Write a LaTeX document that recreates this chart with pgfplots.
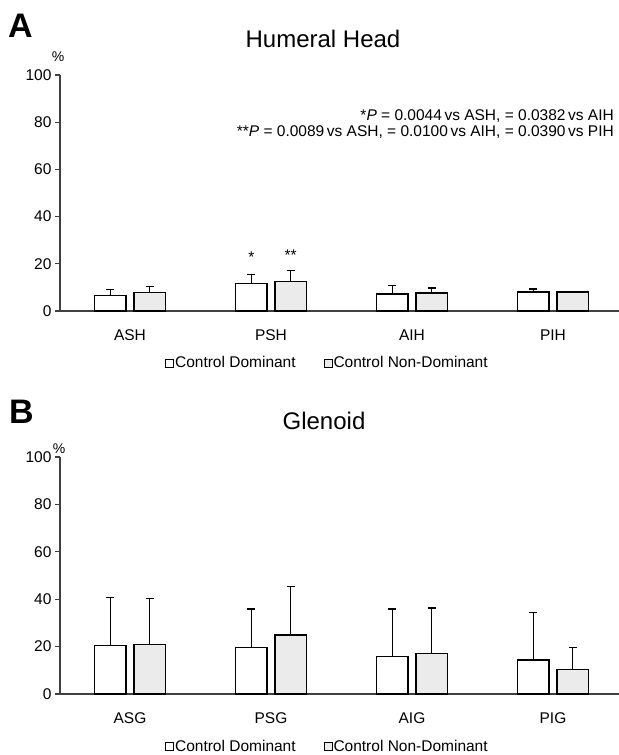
\documentclass[border=0pt]{standalone}
\usepackage{fontspec}
\setmainfont{Liberation Sans}
\usepackage{pgfplots}
\pgfplotsset{compat=1.18}
\usepackage{pgfplotstable}

\pgfplotstableread{
x D Derr N Nerr
0 6.5 2.7 7.75 2.7
1 11.6 3.8 12.6 4.5
2 7.1 3.8 7.6 2.1
3 8.05 1.25 8.05 0.3
}\headdata
\pgfplotstableread{
x D Derr N Nerr
0 20.4 20.2 20.8 19.4
1 19.7 16.2 24.8 20.5
2 15.9 20.0 17.0 19.3
3 14.3 20.0 10.4 9.3
}\glendata

\definecolor{ndgray}{HTML}{EBEBEB}
\definecolor{axgray}{HTML}{404040}

\newcommand{\lblfont}{\fontsize{15.5bp}{18bp}\selectfont}

\pgfplotsset{
  panel/.style={
    scale only axis, width=559bp,
    xmin=-0.496, xmax=3.468, ymin=0, ymax=100,
    axis x line*=bottom, axis y line*=left,
    axis line style={axgray, line width=1.3bp},
    ytick={0,20,...,100},
    xtick={0,1,2,3},
    major x tick style={draw=none},
    major y tick style={axgray, line width=1.1bp},
    tick align=outside, major tick length=5bp,
    /pgf/number format/assume math mode=true,
    tick label style={font=\lblfont, text=black},
    yticklabel style={xshift=0bp},
    xticklabel style={yshift=-10bp},
    ybar, bar width=31.7bp,
    clip=false,
    legend columns=2,
    legend style={draw=none, fill=none, inner sep=0pt, at={(0.188,-0.22)}, anchor=west,
      font=\lblfont, nodes={inner sep=1bp},
      /tikz/every even column/.append style={column sep=27bp}},
  },
  dom/.style={fill=white, draw=black, line width=1.5bp, bar shift=-19.7bp,
    legend image code/.code={\draw[black, line width=0.8bp, fill=white] (0bp,-4bp) rectangle (8bp,4bp);},
    error bars/.cd, y dir=plus, y explicit,
    error bar style={black, line width=1.4bp},
    error mark options={black, line width=1.4bp, mark size=4bp, rotate=90}},
  nondom/.style={fill=ndgray, draw=black, line width=1.5bp, bar shift=19.7bp,
    legend image code/.code={\draw[black, line width=0.8bp, fill=ndgray] (0bp,-4bp) rectangle (8bp,4bp);},
    error bars/.cd, y dir=plus, y explicit,
    error bar style={black, line width=1.4bp},
    error mark options={black, line width=1.4bp, mark size=4bp, rotate=90}},
}

\begin{document}
\begin{tikzpicture}
\useasboundingbox (0bp,0bp) rectangle (619bp,755bp);

% Panel A
\begin{axis}[panel, height=236bp, at={(60bp,444bp)}, anchor=south west,
  xticklabels={ASH,PSH,AIH,PIH}]
  \addplot[dom] table[x=x, y=D, y error=Derr] {\headdata};
  \addlegendentry{Control Dominant}
  \addplot[nondom] table[x=x, y=N, y error=Nerr] {\headdata};
  \addlegendentry{Control Non-Dominant}
  \node[font=\lblfont, anchor=center, inner sep=0pt, xshift=-19.7bp] at (axis cs:1,22.6) {*};
  \node[font=\lblfont, anchor=center, inner sep=0pt, xshift=19.7bp] at (axis cs:1,23.7) {**};
\end{axis}

% Panel B
\begin{axis}[panel, height=237bp, at={(60bp,61bp)}, anchor=south west,
  xticklabels={ASG,PSG,AIG,PIG}]
  \addplot[dom] table[x=x, y=D, y error=Derr] {\glendata};
  \addlegendentry{Control Dominant}
  \addplot[nondom] table[x=x, y=N, y error=Nerr] {\glendata};
  \addlegendentry{Control Non-Dominant}
\end{axis}

% Labels and titles
\node[anchor=base west, inner sep=0pt, font=\fontsize{34bp}{40bp}\selectfont\bfseries] at (8bp,717bp) {A};
\node[anchor=base west, inner sep=0pt, font=\fontsize{34bp}{40bp}\selectfont\bfseries] at (9bp,331.7bp) {B};
\node[anchor=base, inner sep=0pt, font=\fontsize{24bp}{28bp}\selectfont] at (323bp,707.7bp) {Humeral Head};
\node[anchor=base, inner sep=0pt, font=\fontsize{24bp}{28bp}\selectfont] at (324bp,325bp) {Glenoid};
\node[anchor=base, inner sep=0pt, font=\fontsize{14bp}{16bp}\selectfont] at (58bp,693bp) {\%};
\node[anchor=base, inner sep=0pt, font=\fontsize{14bp}{16bp}\selectfont] at (59bp,301bp) {\%};
\node[anchor=base east, inner sep=0pt, font=\lblfont] at (614bp,634.3bp)
  {*\textit{P} = 0.0044\,vs ASH, = 0.0382\,vs AIH};
\node[anchor=base east, inner sep=0pt, font=\lblfont] at (614bp,618.3bp)
  {**\textit{P} = 0.0089\,vs ASH, = 0.0100\,vs AIH, = 0.0390\,vs PIH};
\end{tikzpicture}
\end{document}
